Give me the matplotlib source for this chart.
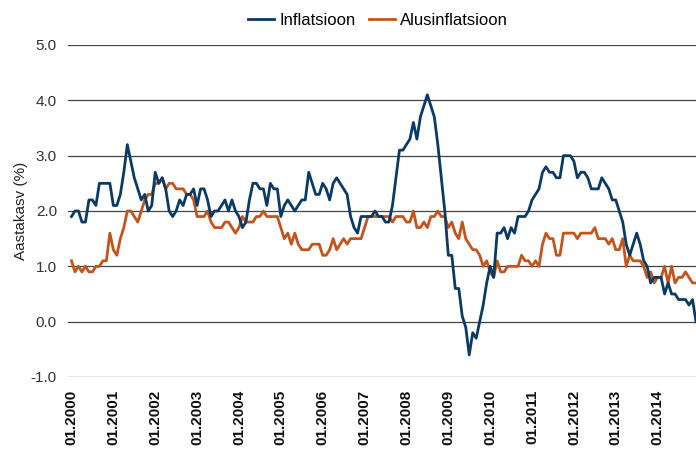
import numpy as np
import matplotlib
matplotlib.use('Agg')
import matplotlib.pyplot as plt

plt.rcParams['font.family'] = ['Liberation Sans', 'DejaVu Sans']

# monthly values, 01.2000 - 12.2014
inflation = [
    1.9, 2.0, 2.0, 1.8, 1.8, 2.2, 2.2, 2.1, 2.5, 2.5, 2.5, 2.5,   # 2000
    2.1, 2.1, 2.3, 2.7, 3.2, 2.9, 2.6, 2.4, 2.2, 2.3, 2.0, 2.1,   # 2001
    2.7, 2.5, 2.6, 2.4, 2.0, 1.9, 2.0, 2.2, 2.1, 2.3, 2.3, 2.4,   # 2002
    2.1, 2.4, 2.4, 2.2, 1.9, 2.0, 2.0, 2.1, 2.2, 2.0, 2.2, 2.0,   # 2003
    1.9, 1.7, 1.8, 2.2, 2.5, 2.5, 2.4, 2.4, 2.1, 2.5, 2.4, 2.4,   # 2004
    1.9, 2.1, 2.2, 2.1, 2.0, 2.1, 2.2, 2.2, 2.7, 2.5, 2.3, 2.3,   # 2005
    2.5, 2.4, 2.2, 2.5, 2.6, 2.5, 2.4, 2.3, 1.9, 1.7, 1.6, 1.9,   # 2006
    1.9, 1.9, 1.9, 2.0, 1.9, 1.9, 1.8, 1.8, 2.1, 2.6, 3.1, 3.1,   # 2007
    3.2, 3.3, 3.6, 3.3, 3.7, 3.9, 4.1, 3.9, 3.7, 3.2, 2.6, 2.0,   # 2008
    1.2, 1.2, 0.6, 0.6, 0.1, -0.1, -0.6, -0.2, -0.3, 0.0, 0.3, 0.7,  # 2009
    1.0, 0.8, 1.6, 1.6, 1.7, 1.5, 1.7, 1.6, 1.9, 1.9, 1.9, 2.0,   # 2010
    2.2, 2.3, 2.4, 2.7, 2.8, 2.7, 2.7, 2.6, 2.6, 3.0, 3.0, 3.0,   # 2011
    2.9, 2.6, 2.7, 2.7, 2.6, 2.4, 2.4, 2.4, 2.6, 2.5, 2.4, 2.2,   # 2012
    2.2, 2.0, 1.8, 1.4, 1.2, 1.4, 1.6, 1.4, 1.1, 1.0, 0.7, 0.8,   # 2013
    0.8, 0.8, 0.5, 0.7, 0.5, 0.5, 0.4, 0.4, 0.4, 0.3, 0.4, 0.0,   # 2014
]

core_inflation = [
    1.1, 0.9, 1.0, 0.9, 1.0, 0.9, 0.9, 1.0, 1.0, 1.1, 1.1, 1.6,   # 2000
    1.3, 1.2, 1.5, 1.7, 2.0, 2.0, 1.9, 1.8, 2.0, 2.2, 2.3, 2.3,   # 2001
    2.5, 2.5, 2.6, 2.4, 2.5, 2.5, 2.4, 2.4, 2.4, 2.3, 2.3, 2.2,   # 2002
    1.9, 1.9, 1.9, 2.0, 1.8, 1.7, 1.7, 1.7, 1.8, 1.8, 1.7, 1.6,   # 2003
    1.7, 1.9, 1.8, 1.8, 1.8, 1.9, 1.9, 2.0, 1.9, 1.9, 1.9, 1.9,   # 2004
    1.7, 1.5, 1.6, 1.4, 1.6, 1.4, 1.3, 1.3, 1.3, 1.4, 1.4, 1.4,   # 2005
    1.2, 1.2, 1.3, 1.5, 1.3, 1.4, 1.5, 1.4, 1.5, 1.5, 1.5, 1.5,   # 2006
    1.7, 1.9, 1.9, 1.9, 1.9, 1.9, 1.9, 1.9, 1.8, 1.9, 1.9, 1.9,   # 2007
    1.8, 1.8, 2.0, 1.7, 1.7, 1.8, 1.7, 1.9, 1.9, 2.0, 1.9, 1.9,   # 2008
    1.7, 1.8, 1.6, 1.5, 1.8, 1.5, 1.4, 1.3, 1.3, 1.2, 1.0, 1.1,   # 2009
    0.9, 0.8, 1.1, 0.9, 0.9, 1.0, 1.0, 1.0, 1.0, 1.2, 1.1, 1.1,   # 2010
    1.0, 1.1, 1.0, 1.4, 1.6, 1.5, 1.5, 1.2, 1.2, 1.6, 1.6, 1.6,   # 2011
    1.6, 1.5, 1.6, 1.6, 1.6, 1.6, 1.7, 1.5, 1.5, 1.5, 1.4, 1.5,   # 2012
    1.3, 1.3, 1.5, 1.0, 1.2, 1.1, 1.1, 1.1, 1.0, 0.8, 0.9, 0.7,   # 2013
    0.8, 0.8, 1.0, 0.7, 1.0, 0.7, 0.8, 0.8, 0.9, 0.8, 0.7, 0.7,   # 2014
]

years = list(range(2000, 2015))
tick_labels = ['01.{}'.format(y) for y in years]
y_ticks = [5.0, 4.0, 3.0, 2.0, 1.0, 0.0, -1.0]

blue = '#0a3a66'
orange = '#c4541a'

fig = plt.figure(figsize=(6.96, 4.49), dpi=100)
ax = fig.add_axes([68 / 696, 1 - 377 / 449, 1 - 68 / 696, (377 - 45) / 449])

months = np.arange(len(inflation))
ax.plot(months, inflation, color=blue, lw=2.0, label='Inflatsioon', zorder=3)
ax.plot(months, core_inflation, color=orange, lw=2.0, label='Alusinflatsioon', zorder=2)

ax.set_xlim(-1, len(inflation) - 1)
ax.set_ylim(-1, 5)
ax.set_yticks(y_ticks)
ax.set_yticklabels(['{:.1f}'.format(v) for v in y_ticks], fontsize=11, color='#333333')
ax.set_xticks([12 * i for i in range(len(years))])
ax.set_xticklabels(tick_labels, rotation=90, fontsize=11, fontweight='bold', color='#111111')
ax.tick_params(axis='both', length=0)
ax.tick_params(axis='y', pad=8)
ax.tick_params(axis='x', pad=9)

ax.grid(axis='y', color='#444444', lw=0.9)
ax.set_axisbelow(True)
for s in ax.spines.values():
    s.set_visible(False)

ax.set_ylabel('Aastakasv (%)', fontsize=11, color='#222222', labelpad=2)

fig.legend(loc='center', bbox_to_anchor=(0.543, 0.955), ncol=2, frameon=False,
           fontsize=12, handlelength=1.6, handletextpad=0.3, columnspacing=0.8)

fig.savefig('out.png', dpi=100)
